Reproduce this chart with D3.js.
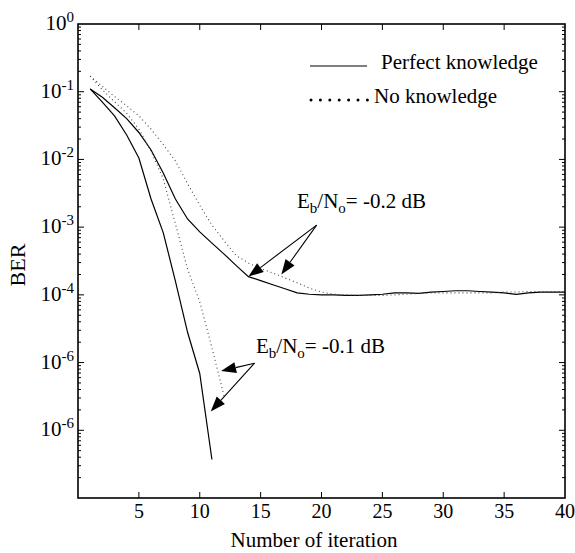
<!DOCTYPE html>
<html><head><meta charset="utf-8">
<script src="https://cdn.jsdelivr.net/npm/d3@7"></script>
<style>
body{margin:0;background:#fff}
text{font-family:"Liberation Serif","Times New Roman",Times,"DejaVu Serif",serif;fill:#000}
</style>
</head><body>
<svg id="c" width="575" height="553" font-family="Liberation Serif, Times New Roman, serif"></svg>
<script>
// ---- data ----
const iterations = d3.range(1, 41);
const perfectM02 = [1.1e-1, 8.3e-2, 5.8e-2, 4.0e-2, 2.5e-2, 1.38e-2, 6.3e-3, 2.6e-3, 1.32e-3, 8.5e-4,
  5.8e-4, 4.0e-4, 2.7e-4, 1.86e-4, 1.62e-4, 1.41e-4, 1.23e-4, 1.07e-4, 1.02e-4, 1.0e-4,
  1.0e-4, 0.98e-4, 0.98e-4, 1.0e-4, 1.02e-4, 1.07e-4, 1.07e-4, 1.05e-4, 1.1e-4, 1.12e-4,
  1.15e-4, 1.15e-4, 1.12e-4, 1.1e-4, 1.07e-4, 1.02e-4, 1.07e-4, 1.1e-4, 1.1e-4, 1.1e-4];
const noneM02 = [1.7e-1, 1.2e-1, 8.5e-2, 6.2e-2, 4.4e-2, 2.8e-2, 1.66e-2, 9.5e-3, 4.4e-3, 2.1e-3,
  1.07e-3, 6.3e-4, 3.8e-4, 2.95e-4, 2.45e-4, 2.1e-4, 1.78e-4, 1.51e-4, 1.26e-4, 1.1e-4,
  1.02e-4, 1.0e-4, 0.98e-4, 0.98e-4, 0.98e-4, 1.0e-4, 1.02e-4, 1.05e-4, 1.07e-4, 1.07e-4,
  1.07e-4, 1.07e-4, 1.07e-4, 1.07e-4, 1.1e-4, 1.1e-4, 1.12e-4, 1.12e-4, 1.12e-4, 1.12e-4];
const perfectM01 = [1.1e-1, 7.0e-2, 4.4e-2, 2.3e-2, 1.05e-2, 2.6e-3, 8.3e-4, 1.6e-4, 2.8e-5, 6.9e-6, 3.7e-7];
const noneM01 = [1.7e-1, 1.07e-1, 7.1e-2, 4.8e-2, 2.8e-2, 1.32e-2, 5.2e-3, 1.12e-3, 2.4e-4, 7.9e-5, 1.66e-5, 3.2e-6];
const xTicks = [5, 10, 15, 20, 25, 30, 35, 40];
const yTickExps = [0, -1, -2, -3, -4, -5, -6];
const yTickLabels = ["0", "-1", "-2", "-3", "-4", "-6", "-6"];
const legendLabels = ["Perfect knowledge", "No knowledge"];
const xTitle = "Number of iteration";
const yTitle = "BER";
// annotations: [iteration, BER]
const annM02 = {text: "-0.2 dB", label: [17.99, 1.9e-3], origin: [19.6, 1.07e-3], tips: [[14, 1.86e-4], [16.7, 2.0e-4]]};
const annM01 = {text: "-0.1 dB", label: [14.62, 1.4e-5], origin: [14.5, 9.8e-6], tips: [[11.75, 7.5e-6], [10.9, 1.9e-6]]};

// ---- layout ----
const W = 575, H = 553;
const m = {l: 78, r: 10, t: 24, b: 55};
const FONT = "'Liberation Serif','Times New Roman',Times,serif";
const svg = d3.select("#c");
const x = d3.scaleLinear().domain([0, 40]).range([m.l, W - m.r]);
const y = d3.scaleLog().domain([1e-7, 1]).range([H - m.b, m.t]);
const X0 = x.range()[0], X1 = x.range()[1], Y0 = y.range()[0], Y1 = y.range()[1];

// ticks
const tg = svg.append("g").attr("stroke", "#000").attr("stroke-width", 1);
xTicks.filter(d => d < 40).forEach(d => {
  tg.append("line").attr("x1", x(d)).attr("x2", x(d)).attr("y1", Y0).attr("y2", Y0 - 6);
  tg.append("line").attr("x1", x(d)).attr("x2", x(d)).attr("y1", Y1).attr("y2", Y1 + 6);
});
for (let e = -7; e < 0; e++) {
  for (let k = 1; k <= 9; k++) {
    const v = k * Math.pow(10, e);
    const len = k === 1 ? 6 : 3;
    if (k === 1 && e === -7) continue;
    tg.append("line").attr("x1", X0).attr("x2", X0 + len).attr("y1", y(v)).attr("y2", y(v));
    tg.append("line").attr("x1", X1).attr("x2", X1 - len).attr("y1", y(v)).attr("y2", y(v));
  }
}

// frame
svg.append("rect").attr("x", X0).attr("y", Y1).attr("width", X1 - X0).attr("height", Y0 - Y1)
  .attr("fill", "none").attr("stroke", "#000").attr("stroke-width", 1.6);

const T = (sel) => sel.append("text").attr("font-family", FONT);

// x tick labels
xTicks.forEach(d => {
  T(svg).attr("x", x(d)).attr("y", Y0 + 20).attr("text-anchor", "middle")
    .attr("font-size", 20).text(d);
});

// y tick labels
yTickExps.forEach((e, i) => {
  const t = T(svg).attr("x", X0 - 4).attr("y", y(Math.pow(10, e)) + 6)
    .attr("text-anchor", "end").attr("font-size", 21);
  t.append("tspan").text("10");
  t.append("tspan").attr("font-size", 15).attr("dy", -8).text(yTickLabels[i]);
});

// axis titles
T(svg).attr("x", 314).attr("y", H - 6).attr("text-anchor", "middle")
  .attr("font-size", 21).text(xTitle);
T(svg).attr("transform", `translate(25,${(Y0 + Y1) / 2 + 4}) rotate(-90)`)
  .attr("text-anchor", "middle").attr("font-size", 22).text(yTitle);

// curves
const line = d3.line().x((d, i) => x(iterations[i])).y(d => y(d));
const solid = {stroke: "#000", width: 1.2, dash: null};
const dotted = {stroke: "#444", width: 1.1, dash: "1,3"};
[[perfectM02, solid], [perfectM01, solid], [noneM02, dotted], [noneM01, dotted]].forEach(([data, st]) => {
  svg.append("path").datum(data).attr("d", line).attr("fill", "none")
    .attr("stroke", st.stroke).attr("stroke-width", st.width)
    .attr("stroke-dasharray", st.dash);
});

// legend
const lg = svg.append("g");
lg.append("line").attr("x1", 310).attr("x2", 367).attr("y1", 66).attr("y2", 66)
  .attr("stroke", "#000").attr("stroke-width", 1.2);
lg.append("line").attr("x1", 311).attr("x2", 368).attr("y1", 100).attr("y2", 100)
  .attr("stroke", "#000").attr("stroke-width", 3).attr("stroke-linecap", "round")
  .attr("stroke-dasharray", "0,9.4");
T(lg).attr("x", 381).attr("y", 69).attr("font-size", 21).text(legendLabels[0]);
T(lg).attr("x", 374).attr("y", 103).attr("font-size", 21).text(legendLabels[1]);

// annotations
function annotate(a) {
  const t = T(svg).attr("x", x(a.label[0])).attr("y", y(a.label[1]))
    .attr("text-anchor", "start").attr("font-size", 21);
  t.append("tspan").text("E");
  t.append("tspan").attr("font-size", 15).attr("dy", 5).text("b");
  t.append("tspan").attr("dy", -5).text("/N");
  t.append("tspan").attr("font-size", 15).attr("dy", 5).text("o");
  t.append("tspan").attr("dy", -5).text("= " + a.text);
  const ox = x(a.origin[0]), oy = y(a.origin[1]);
  a.tips.forEach(tp => {
    const tx = x(tp[0]), ty = y(tp[1]);
    const ang = Math.atan2(ty - oy, tx - ox);
    const L = 15, hw = 5.5;
    const bx = tx - L * Math.cos(ang), by = ty - L * Math.sin(ang);
    svg.append("line").attr("x1", ox).attr("y1", oy).attr("x2", bx).attr("y2", by)
      .attr("stroke", "#000").attr("stroke-width", 1.1);
    const px = -Math.sin(ang), py = Math.cos(ang);
    svg.append("path").attr("d", `M${tx},${ty}L${bx + hw * px},${by + hw * py}L${bx - hw * px},${by - hw * py}Z`)
      .attr("fill", "#000");
  });
}
annotate(annM02);
annotate(annM01);
</script>
</body></html>
